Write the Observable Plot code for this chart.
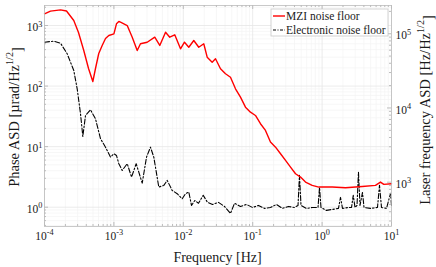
<!DOCTYPE html>
<html><head><meta charset="utf-8">
<script src="https://cdn.jsdelivr.net/npm/d3@7"></script>
<script src="https://cdn.jsdelivr.net/npm/@observablehq/plot@0.6"></script>
<style>
body{margin:0;background:#fff}
svg{font-family:"Liberation Serif","Times New Roman",serif}
</style>
</head><body><div id="chart"></div>
<script>
// ---- data ----
const seriesNames = ["MZI noise floor", "Electronic noise floor"];
const mziFreq = [1.0e-4,1.219e-4,1.702e-4,2.075e-4,2.642e-4,3.09e-4,3.68e-4,4.31e-4,4.97e-4,5.43e-4,6.05e-4,6.78e-4,7.57e-4,8.45e-4,1.0e-3,1.089e-3,1.178e-3,1.245e-3,1.556e-3,1.837e-3,2.168e-3,2.415e-3,3.02e-3,3.88e-3,4.58e-3,5.55e-3,6.38e-3,7.53e-3,9.12e-3,1.04e-2,1.20e-2,1.416e-2,1.671e-2,1.972e-2,2.208e-2,2.606e-2,2.911e-2,3.436e-2,4.055e-2,4.786e-2,5.649e-2,6.668e-2,7.87e-2,9.29e-2,0.1096,0.1294,0.1528,0.1803,0.2133,0.2518,0.2972,0.3508,0.4140,0.4887,0.5768,0.7194,0.8954,1.400,2.173,3.784,5.875,6.934,7.745,10];
const mziAsd = [1560,1730,1815,1735,1210,766,387,195,119,195,345,468,610,684,729,1067,1164,1133,1000,641,387,499,530,641,468,775,641,703,413,530,438,565,438,499,300,248,282,193,160,140,90,65.6,44.9,37.1,32.7,23.9,18.5,11.9,9.8,7.64,5.92,4.59,3.57,3.14,2.60,2.29,2.15,2.15,2.10,2.20,2.29,2.60,2.38,2.44];
const elecFreq = [1e-4,1.361e-4,1.702e-4,2.123e-4,2.642e-4,2.958e-4,3.304e-4,3.565e-4,3.899e-4,4.603e-4,5.43e-4,6.412e-4,7.57e-4,8.93e-4,1.0e-3,1.089e-3,1.178e-3,1.318e-3,1.556e-3,1.795e-3,2.094e-3,2.559e-3,2.951e-3,3.365e-3,3.758e-3,4.436e-3,5.236e-3,5.861e-3,6.918e-3,8.166e-3,9.64e-3,1.076e-2,1.20e-2,1.312e-2,1.466e-2,1.656e-2,1.936e-2,2.234e-2,2.636e-2,3.214e-2,3.926e-2,4.786e-2,5.47e-2,6.668e-2,8.147e-2,9.93e-2,0.1213,0.1479,0.1803,0.2203,0.2685,0.3281,0.3999,0.4498,0.4721,0.4966,0.5957,0.7278,0.8730,0.9183,0.9638,1.156,1.413,1.722,1.841,1.968,2.399,2.655,2.812,2.979,3.184,3.342,3.516,3.819,4.018,4.989,6.281,6.714,7.178,8.472,9.683,10];
const elecAsd = [530,551,511,341,181,90,34.9,14.7,32.7,40.6,28.8,13.5,9.8,6.71,7.64,7.16,5.22,4.05,5.22,3.14,5.22,2.50,6.71,9.8,6.71,2.15,2.29,2.77,1.89,1.67,1.38,1.67,1.78,1.07,1.29,1.16,1.57,1.20,1.11,1.20,1.03,0.79,1.16,1.03,1.11,0.99,1.07,0.955,0.99,1.11,0.955,1.03,0.99,1.07,3.35,1.07,0.955,0.99,0.99,2.12,0.99,0.885,0.92,0.955,1.45,0.955,0.99,0.99,1.57,0.99,1.07,3.79,1.07,1.75,0.99,0.955,0.99,2.29,0.99,0.955,1.69,1.07];
const xTicks = [1e-4, 1e-3, 1e-2, 1e-1, 1, 10];
const yTicks = [1, 10, 100, 1000];
const rightTicks = [1e3, 1e4, 1e5];
const xDomain = [1e-4, 10];
const yDomain = [0.48, 2140];
const rightDomain = [253, 2.4e5];

// ---- layout ----
const W = 436, H = 267, mL = 44, mR = 45, mT = 5, mB = 41;
const iW = W - mL - mR, iH = H - mT - mB;

const mzi = mziFreq.map((f, i) => ({f, v: mziAsd[i]}));
const elec = elecFreq.map((f, i) => ({f, v: elecAsd[i]}));

const lg = Math.log10;
function mapR(r) {
  const t = (lg(r) - lg(rightDomain[0])) / (lg(rightDomain[1]) - lg(rightDomain[0]));
  return 10 ** (lg(yDomain[0]) + t * (lg(yDomain[1]) - lg(yDomain[0])));
}
function minors(lo, hi, e0, e1) {
  const out = [];
  for (let e = e0; e <= e1; e++) for (let k = 2; k <= 9; k++) {
    const v = k * 10 ** e; if (v > lo && v < hi) out.push(v);
  }
  return out;
}
const xMinor = minors(xDomain[0], xDomain[1], -4, 0);
const yMinor = minors(yDomain[0], yDomain[1], -1, 3);
const rMinor = minors(rightDomain[0], rightDomain[1], 2, 5);
const expo = d => `10^${Math.round(lg(d))}`;
const gridMinor = "#f3f3f3", gridMajor = "#e6e6e6", tickCol = "#bcbcbc", txt = "#1a1a1a";

const svg = Plot.plot({
  width: W, height: H,
  marginLeft: mL, marginRight: mR, marginTop: mT, marginBottom: mB,
  x: {type: "log", domain: xDomain, axis: null},
  y: {type: "log", domain: yDomain, axis: null},
  style: {fontFamily: '"Liberation Serif","Times New Roman",serif', background: "#fff"},
  marks: [
    Plot.ruleX(xMinor, {x: d => d, stroke: gridMinor, strokeWidth: 0.7}),
    Plot.ruleY(yMinor, {y: d => d, stroke: gridMinor, strokeWidth: 0.7}),
    Plot.ruleX(xTicks, {x: d => d, stroke: gridMajor, strokeWidth: 0.8}),
    Plot.ruleY(yTicks, {y: d => d, stroke: gridMajor, strokeWidth: 0.8}),
    Plot.line(elec, {x: "f", y: "v", stroke: "#000", strokeWidth: 1.1, strokeDasharray: "5,2,1.5,2"}),
    Plot.line(mzi, {x: "f", y: "v", stroke: "#ff0000", strokeWidth: 1.4}),
    Plot.frame({stroke: tickCol, strokeWidth: 0.8}),
    // ticks (inward)
    Plot.ruleX(xTicks, {x: d => d, insetTop: iH - 4, stroke: tickCol}),
    Plot.ruleX(xTicks, {x: d => d, insetBottom: iH - 4, stroke: tickCol}),
    Plot.ruleX(xMinor, {x: d => d, insetTop: iH - 2, stroke: tickCol}),
    Plot.ruleX(xMinor, {x: d => d, insetBottom: iH - 2, stroke: tickCol}),
    Plot.ruleY(yTicks, {y: d => d, insetRight: iW - 4, stroke: tickCol}),
    Plot.ruleY(yMinor, {y: d => d, insetRight: iW - 2, stroke: tickCol}),
    Plot.ruleY(rightTicks, {y: d => mapR(d), insetLeft: iW - 4, stroke: tickCol}),
    Plot.ruleY(rMinor, {y: d => mapR(d), insetLeft: iW - 2, stroke: tickCol}),
    // tick labels
    Plot.text(xTicks, {x: d => d, text: expo, frameAnchor: "bottom", dy: 13, fontSize: 11.5, fill: txt}),
    Plot.text(yTicks, {y: d => d, text: expo, frameAnchor: "left", textAnchor: "end", dx: -2, dy: 2, fontSize: 11.5, fill: txt}),
    Plot.text(rightTicks, {y: d => mapR(d), text: expo, frameAnchor: "right", textAnchor: "start", dx: 4, dy: 2, fontSize: 11.5, fill: txt})
  ]
});

// superscripts
d3.select(svg).selectAll("text").each(function () {
  const m = /^10\^(.+)$/.exec(this.textContent);
  if (!m) return;
  const el = d3.select(this);
  el.text(null);
  el.append("tspan").text("10");
  el.append("tspan").attr("font-size", "0.72em").attr("dy", "-0.55em").text(m[1]);
});

const s = d3.select(svg);
// axis titles
s.append("text").attr("x", mL + iW / 2).attr("y", 262).attr("text-anchor", "middle")
  .attr("font-size", 14).attr("fill", txt).text("Frequency [Hz]");
function ylabel(x, y, main, close) {
  const t = s.append("text").attr("transform", `translate(${x},${y}) rotate(-90)`)
    .attr("text-anchor", "middle").attr("dy", "0.35em").attr("font-size", 14.5).attr("fill", txt);
  t.append("tspan").text(main);
  t.append("tspan").attr("font-size", "0.7em").attr("dy", "-0.6em").text("1/2");
  t.append("tspan").attr("dy", "0.6em").text(close);
}
ylabel(14, 117, "Phase ASD [\u00b5rad/Hz", "]");
ylabel(425, 110, "Laser frequency ASD [Hz/Hz", "]");

// legend
const lgd = s.append("g").attr("text-anchor", "start");
lgd.append("rect").attr("x", 271).attr("y", 9).attr("width", 117).attr("height", 27)
  .attr("fill", "#fff").attr("stroke", "#c8c8c8").attr("stroke-width", 0.8);
lgd.append("line").attr("x1", 273).attr("x2", 285).attr("y1", 16).attr("y2", 16)
  .attr("stroke", "#ff0000").attr("stroke-width", 1.4);
lgd.append("line").attr("x1", 273).attr("x2", 285).attr("y1", 30).attr("y2", 30)
  .attr("stroke", "#000").attr("stroke-width", 1.1).attr("stroke-dasharray", "3,1.5,1,1.5");
lgd.append("text").attr("x", 286).attr("y", 19.5).attr("text-anchor", "start").attr("font-size", 11.5).attr("fill", txt).text(seriesNames[0]);
lgd.append("text").attr("x", 286).attr("y", 33.5).attr("text-anchor", "start").attr("font-size", 11.5).attr("fill", txt).text(seriesNames[1]);

document.getElementById("chart").appendChild(svg);
</script>
</body></html>
